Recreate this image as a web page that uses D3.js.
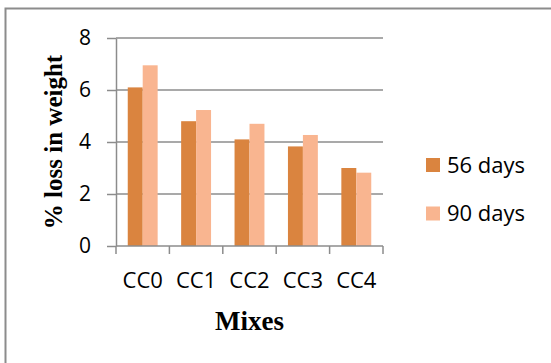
<!DOCTYPE html>
<html>
<head>
<meta charset="utf-8">
<script src="https://d3js.org/d3.v7.min.js"></script>
<style>
  html, body { margin: 0; padding: 0; background: #fff; }
  svg { display: block; }
</style>
</head>
<body>
<div id="chart"></div>
<script>
// Weight loss of the mixes after 56 and 90 days
const mixes = ["CC0", "CC1", "CC2", "CC3", "CC4"];
const seriesNames = ["56 days", "90 days"];
const loss56 = [6.1, 4.8, 4.1, 3.83, 3.0];
const loss90 = [6.95, 5.23, 4.7, 4.27, 2.82];
const yTicks = [0, 2, 4, 6, 8];
const seriesColors = ["#DA843F", "#F9B590"];

const W = 551, H = 363;
const plot = { left: 116, right: 383, top: 38, bottom: 246 };

const svg = d3.select("#chart").append("svg")
  .attr("width", W).attr("height", H);

// outer frame (partly cut off at right and bottom)
svg.append("path")
  .attr("d", `M5.5,${H + 2} V8.5 H${W + 2}`)
  .attr("fill", "none").attr("stroke", "#8c8c8c").attr("stroke-width", 2);

const x = d3.scaleBand().domain(mixes)
  .range([plot.left, plot.right]).paddingInner(0.44).paddingOuter(0.22);
const xs = d3.scaleBand().domain(seriesNames).range([0, x.bandwidth()]);
const y = d3.scaleLinear().domain([0, 8]).range([plot.bottom, plot.top]);

const gridColor = "#8c8c8c";

// horizontal gridlines
svg.append("g").selectAll("line").data(yTicks.filter(d => d > 0)).join("line")
  .attr("x1", plot.left).attr("x2", plot.right)
  .attr("y1", d => y(d)).attr("y2", d => y(d))
  .attr("stroke", gridColor).attr("stroke-width", 1.5);

// bars
const rows = mixes.map((m, i) => ({ mix: m, values: [loss56[i], loss90[i]] }));
svg.append("g").selectAll("g").data(rows).join("g")
  .attr("transform", d => `translate(${x(d.mix)},0)`)
  .selectAll("rect").data(d => d.values.map((v, j) => ({ s: seriesNames[j], v, j })))
  .join("rect")
  .attr("x", d => xs(d.s)).attr("width", xs.bandwidth())
  .attr("y", d => y(d.v)).attr("height", d => y(0) - y(d.v))
  .attr("fill", d => seriesColors[d.j]);

// y axis
const yAxis = svg.append("g").attr("transform", `translate(${plot.left},0)`)
  .call(d3.axisLeft(y).tickValues(yTicks).tickSize(9).tickPadding(16).tickSizeOuter(0));
yAxis.select(".domain").attr("stroke", gridColor).attr("stroke-width", 1.5);
yAxis.selectAll(".tick line").attr("stroke", gridColor).attr("stroke-width", 1.5);
yAxis.selectAll(".tick text")
  .attr("font-family", "'Open Sans', sans-serif").attr("font-size", 21).attr("fill", "#000");

// x axis: ticks sit at the category boundaries
const xAxis = svg.append("g").attr("transform", `translate(0,${plot.bottom})`);
xAxis.append("line").attr("x1", plot.left).attr("x2", plot.right)
  .attr("stroke", gridColor).attr("stroke-width", 1.5);
const step = x.step();
const bounds = d3.range(mixes.length + 1).map(i => plot.left + i * step);
xAxis.selectAll("line.tk").data(bounds).join("line").attr("class", "tk")
  .attr("x1", d => d).attr("x2", d => d).attr("y1", 0).attr("y2", 8)
  .attr("stroke", gridColor).attr("stroke-width", 1.5);
xAxis.selectAll("text").data(mixes).join("text")
  .attr("x", d => x(d) + x.bandwidth() / 2).attr("y", 42)
  .attr("text-anchor", "middle")
  .attr("font-family", "'Open Sans', sans-serif").attr("font-size", 22).attr("fill", "#000")
  .text(d => d);

// axis titles
svg.append("text")
  .attr("x", (plot.left + plot.right) / 2).attr("y", 330)
  .attr("text-anchor", "middle")
  .attr("font-family", "'Liberation Serif', 'Times New Roman', serif")
  .attr("font-weight", "bold").attr("font-size", 27).attr("fill", "#000")
  .text("Mixes");

svg.append("text")
  .attr("transform", "translate(62,142) rotate(-90)")
  .attr("text-anchor", "middle")
  .attr("font-family", "'Liberation Serif', 'Times New Roman', serif")
  .attr("font-weight", "bold").attr("font-size", 25).attr("fill", "#000")
  .text("% loss in weight");

// legend
const legend = svg.append("g").selectAll("g").data(seriesNames).join("g")
  .attr("transform", (d, i) => `translate(426,${158 + i * 48.5})`);
legend.append("rect").attr("width", 14).attr("height", 14)
  .attr("fill", (d, i) => seriesColors[i]);
legend.append("text").attr("x", 21).attr("y", 14.5)
  .attr("font-family", "'Open Sans', sans-serif").attr("font-size", 22).attr("fill", "#000")
  .text(d => d);
</script>
</body>
</html>
